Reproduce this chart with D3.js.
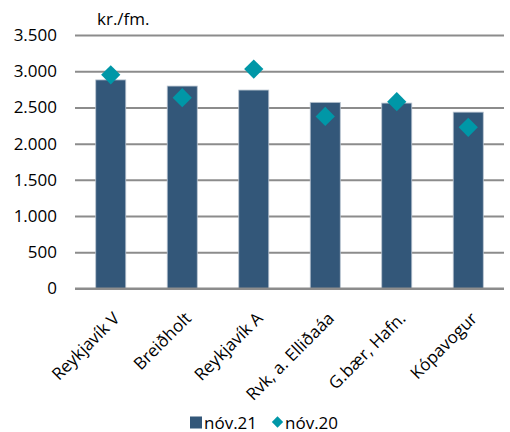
<!DOCTYPE html>
<html>
<head>
<meta charset="utf-8">
<script src="https://cdn.jsdelivr.net/npm/d3@7"></script>
<style>
  html, body { margin: 0; padding: 0; background: #fff; }
  svg text { font-family: "Open Sans", "DejaVu Sans", sans-serif; fill: #000; }
</style>
</head>
<body>
<svg id="chart" width="510" height="432"></svg>
<script>
const categories = ["Reykjavík V", "Breiðholt", "Reykjavík A", "Rvk, a. Elliðaáa", "G.bær, Hafn.", "Kópavogur"];
const nov21 = [2880, 2795, 2740, 2570, 2560, 2435];
const nov20 = [2950, 2635, 3030, 2375, 2580, 2225];
const yTicks = [0, 500, 1000, 1500, 2000, 2500, 3000, 3500];
const seriesNames = ["nóv.21", "nóv.20"];
const unitLabel = "kr./fm.";

(function () {
const barColor = "#335779";
const diamondColor = "#0097a7";
const gridColor = "#8c8c8c";
const fs = 17;

const svg = d3.select("#chart");
const mLeft = 75, mRight = 504, mTop = 35, mBottom = 288.5;

const x = d3.scaleBand().domain(categories).range([mLeft, mRight]).paddingInner(0.58).paddingOuter(0.29);
const y = d3.scaleLinear().domain([0, 3500]).range([mBottom, mTop]);
const fmt = d => d3.format(",")(d).replace(/,/g, ".");

const yAxis = d3.axisLeft(y).tickValues(yTicks).tickSize(-(mRight - mLeft)).tickFormat(fmt).tickPadding(18);
const gy = svg.append("g").attr("transform", `translate(${mLeft},0)`).call(yAxis);
gy.select(".domain").remove();
gy.selectAll(".tick line").attr("stroke", gridColor).attr("stroke-width", 2);
gy.selectAll(".tick text").attr("font-size", fs).attr("fill", "#000")
  .style("font-family", '"Open Sans", sans-serif');

svg.append("g").selectAll("rect").data(categories).join("rect")
  .attr("x", d => x(d))
  .attr("y", (d, i) => y(nov21[i]))
  .attr("width", x.bandwidth())
  .attr("height", (d, i) => y(0) - y(nov21[i]))
  .attr("fill", barColor)
  .attr("stroke", "#b8c4d0")
  .attr("stroke-width", 0.8);

svg.append("line").attr("x1", mLeft).attr("x2", mRight).attr("y1", y(0)).attr("y2", y(0))
  .attr("stroke", gridColor).attr("stroke-width", 2);

svg.append("g").selectAll("path").data(categories).join("path")
  .attr("d", d3.symbol().type(d3.symbolSquare).size(185))
  .attr("transform", (d, i) => `translate(${x(d) + x.bandwidth() / 2},${y(nov20[i])}) rotate(45)`)
  .attr("fill", diamondColor);

const xAxis = d3.axisBottom(x).tickSize(0).tickPadding(0);
const gx = svg.append("g").attr("transform", `translate(0,${mBottom})`).call(xAxis);
gx.select(".domain").remove();
gx.selectAll(".tick text")
  .attr("font-size", fs)
  .attr("fill", "#000")
  .style("font-family", '"Open Sans", sans-serif')
  .attr("text-anchor", "end")
  .attr("dy", null)
  .attr("y", null)
  .attr("transform", "translate(10,31) rotate(-45)");

svg.append("text").attr("x", 97).attr("y", 25).attr("font-size", fs).text(unitLabel);

const lg = svg.append("g");
lg.append("rect").attr("x", 190).attr("y", 416.5).attr("width", 12).attr("height", 12).attr("fill", barColor);
lg.append("text").attr("x", 204).attr("y", 428.5).attr("font-size", fs).text(seriesNames[0]);
lg.append("path").attr("d", d3.symbol().type(d3.symbolSquare).size(64)())
  .attr("transform", "translate(277.5,422) rotate(45)").attr("fill", diamondColor);
lg.append("text").attr("x", 285).attr("y", 428.5).attr("font-size", fs).text(seriesNames[1]);
})();
</script>
</body>
</html>
